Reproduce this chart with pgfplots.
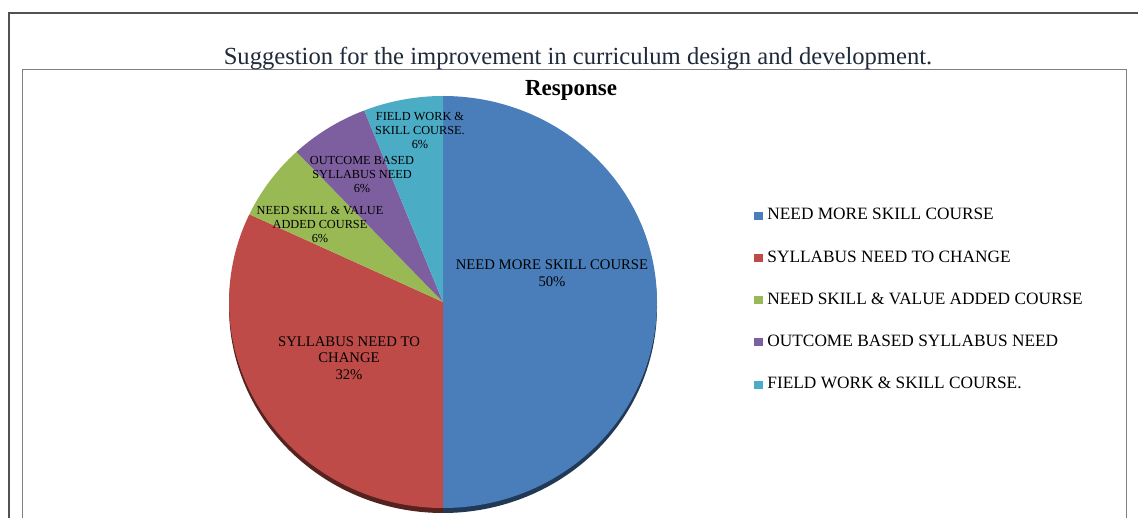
\documentclass[border=0pt]{standalone}
\usepackage{pgfplots}
\pgfplotsset{compat=1.18}
\usepackage{pgfplotstable}
\usepackage{fontspec}
\setmainfont{Liberation Serif}

\definecolor{cblue}{HTML}{4A7EBB}
\definecolor{cred}{HTML}{BE4B48}
\definecolor{cgreen}{HTML}{98B954}
\definecolor{cpurple}{HTML}{7D5FA0}
\definecolor{ccyan}{HTML}{4BACC6}
\definecolor{titlecol}{HTML}{1F2A3A}

% share of responses (%)
\pgfplotstableread{
idx value
0 50
1 32
2 6
3 6
4 6
}\piedata

\pgfplotstablegetelem{0}{value}\of\piedata \let\vA\pgfplotsretval
\pgfplotstablegetelem{1}{value}\of\piedata \let\vB\pgfplotsretval
\pgfplotstablegetelem{2}{value}\of\piedata \let\vC\pgfplotsretval
\pgfplotstablegetelem{3}{value}\of\piedata \let\vD\pgfplotsretval
\pgfplotstablegetelem{4}{value}\of\piedata \let\vE\pgfplotsretval
\pgfmathsetmacro\aO{90}
\pgfmathsetmacro\aA{\aO-3.6*\vA}
\pgfmathsetmacro\aB{\aA-3.6*\vB}
\pgfmathsetmacro\aC{\aB-3.6*\vC}
\pgfmathsetmacro\aD{\aC-3.6*\vD}
\pgfmathsetmacro\aE{\aD-3.6*\vE}

% pie centre (443,216) in pixel units, radii 214 x 206 px (0.5pt per px)
\newcommand\slice[4]{%
  \fill[#1] (axis cs:443,{216-#4}) -- (axis cs:{443+214*cos(#2)},{216-#4+206*sin(#2)})
    arc[start angle=#2, end angle=#3, x radius=107pt, y radius=103pt] -- cycle;}

\begin{document}
\begin{tikzpicture}
\begin{axis}[
  width=569pt, height=259pt, scale only axis,
  xmin=0, xmax=1138, ymin=0, ymax=518,
  hide axis, clip=false,
  legend style={at={(axis cs:748,318)}, anchor=north west, draw=none, fill=none,
    font=\fontsize{8.65}{9.5}\selectfont, row sep=9.9pt,
    nodes={inner xsep=2pt}},
  legend cell align=left,
  sq/.style={legend image code/.code={\fill[##1] (0pt,-2pt) rectangle (4.5pt,2pt);}},
]
% frames
\draw[line width=0.7pt, color=black!68] (axis cs:9,0) -- (axis cs:9,505) -- (axis cs:1138,505);
\draw[line width=0.5pt, color=black!50] (axis cs:22,0) -- (axis cs:22,448) -- (axis cs:1126,448) -- (axis cs:1126,0);
% shadow
\slice{cblue!45!black}{\aO}{\aA}{5}
\slice{cred!45!black}{\aA}{\aB}{5}
% slices
\slice{cblue}{\aO}{\aA}{0}
\slice{cred}{\aA}{\aB}{0}
\slice{cgreen}{\aB}{\aC}{0}
\slice{cpurple}{\aC}{\aD}{0}
\slice{ccyan}{\aD}{\aE}{0}

\addlegendimage{sq, fill=cblue, draw=none}
\addlegendentry{NEED MORE SKILL COURSE}
\addlegendimage{sq, fill=cred, draw=none}
\addlegendentry{SYLLABUS NEED TO CHANGE}
\addlegendimage{sq, fill=cgreen, draw=none}
\addlegendentry{NEED SKILL \& VALUE ADDED COURSE}
\addlegendimage{sq, fill=cpurple, draw=none}
\addlegendentry{OUTCOME BASED SYLLABUS NEED}
\addlegendimage{sq, fill=ccyan, draw=none}
\addlegendentry{FIELD WORK \& SKILL COURSE.}

% titles
\node[anchor=base, text=titlecol, font=\fontsize{12.3}{14}\selectfont] at (axis cs:578,453) {Suggestion for the improvement in curriculum design and development.};
\node[anchor=base, font=\bfseries\fontsize{11.5}{13}\selectfont] at (axis cs:571,422) {Response};

% slice labels
\begin{scope}[every node/.style={align=center, font=\fontsize{7.35}{8.3}\selectfont, inner sep=0pt}]
\node at (axis cs:552,245) {NEED MORE SKILL COURSE\\50\%};
\node at (axis cs:349,160) {SYLLABUS NEED TO\\CHANGE\\32\%};
\end{scope}
\begin{scope}[every node/.style={align=center, font=\fontsize{6.15}{7}\selectfont, inner sep=0pt}]
\node at (axis cs:320,294) {NEED SKILL \& VALUE\\ADDED COURSE\\6\%};
\node at (axis cs:362,343) {OUTCOME BASED\\SYLLABUS NEED\\6\%};
\node at (axis cs:420,388) {FIELD WORK \&\\SKILL COURSE.\\6\%};
\end{scope}
\end{axis}
\pgfresetboundingbox
\path[use as bounding box] (current axis.south west) rectangle (current axis.north east);
\end{tikzpicture}
\end{document}
